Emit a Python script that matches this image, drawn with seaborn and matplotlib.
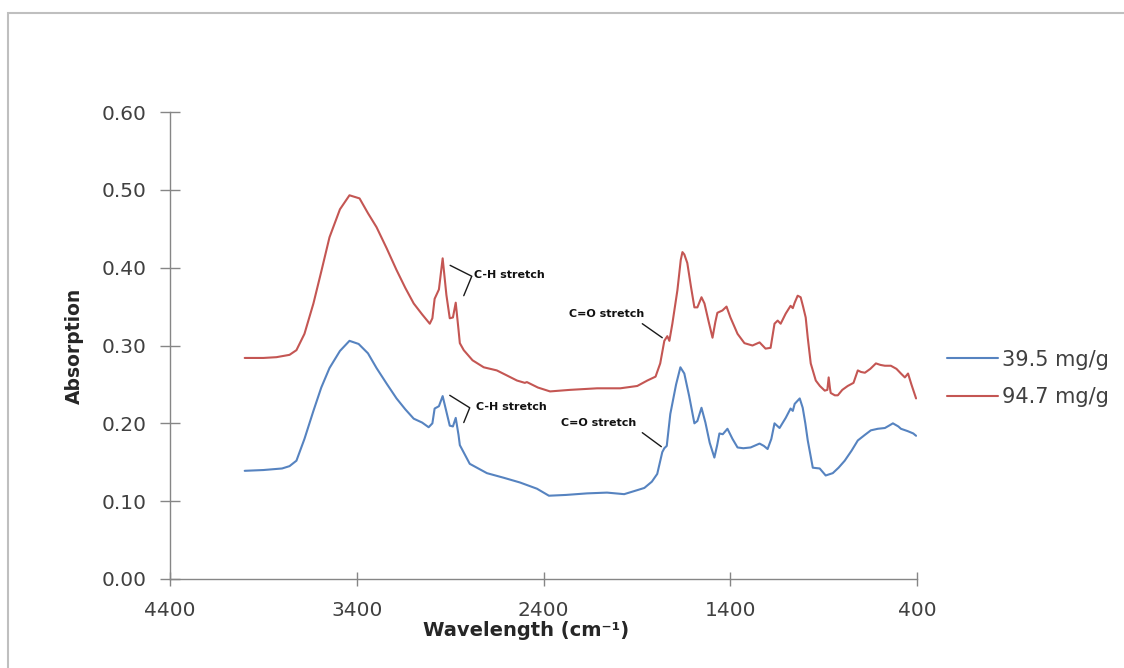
import numpy as np
import pandas as pd
import matplotlib
matplotlib.use("Agg")
import matplotlib.pyplot as plt
import matplotlib.patches as mpatches
from matplotlib.ticker import FixedLocator, FormatStrFormatter
import seaborn as sns

# ---------------- data ----------------
series_names = ["39.5 mg/g", "94.7 mg/g"]

red_wn = [4000, 3900, 3830, 3760, 3723, 3680, 3632, 3590, 3546, 3490, 3439, 3385,
          3340, 3294, 3240, 3187, 3140, 3095, 3050, 3009, 2995, 2983, 2960, 2940,
          2920, 2902, 2885, 2870, 2855, 2848, 2827, 2780, 2720, 2650, 2600, 2542,
          2500, 2489, 2430, 2365, 2258, 2113, 1989, 1898, 1844, 1800, 1775, 1753,
          1737, 1726, 1710, 1683, 1665, 1656, 1646, 1630, 1610, 1592, 1576, 1554,
          1538, 1515, 1495, 1480, 1469, 1442, 1420, 1399, 1361, 1324, 1281, 1243,
          1211, 1184, 1163, 1146, 1130, 1103, 1077, 1065, 1055, 1039, 1023, 1010,
          996, 985, 969, 942, 920, 894, 880, 873, 866, 862, 840, 824, 800, 771,
          740, 717, 700, 679, 650, 620, 595, 572, 540, 510, 486, 465, 448, 430, 405]
red_abs = [0.284, 0.284, 0.285, 0.288, 0.294, 0.315, 0.354, 0.395, 0.439, 0.475, 0.493, 0.489,
           0.470, 0.452, 0.425, 0.397, 0.374, 0.354, 0.340, 0.328, 0.335, 0.360, 0.372, 0.412,
           0.365, 0.335, 0.336, 0.355, 0.320, 0.303, 0.294, 0.281, 0.272, 0.268, 0.262, 0.255,
           0.252, 0.253, 0.246, 0.241, 0.243, 0.245, 0.245, 0.248, 0.255, 0.260, 0.277, 0.306,
           0.312, 0.306, 0.328, 0.371, 0.410, 0.420, 0.417, 0.406, 0.375, 0.349, 0.349, 0.362,
           0.354, 0.330, 0.310, 0.330, 0.342, 0.345, 0.350, 0.336, 0.315, 0.303, 0.300, 0.304,
           0.296, 0.297, 0.328, 0.332, 0.328, 0.341, 0.351, 0.348, 0.355, 0.364, 0.362, 0.350,
           0.336, 0.310, 0.277, 0.255, 0.248, 0.242, 0.243, 0.259, 0.245, 0.239, 0.236, 0.236,
           0.243, 0.248, 0.252, 0.268, 0.266, 0.265, 0.270, 0.277, 0.275, 0.274, 0.274, 0.270,
           0.264, 0.259, 0.264, 0.250, 0.232]

blue_wn = [4000, 3900, 3800, 3760, 3723, 3680, 3632, 3590, 3546, 3490, 3439, 3390,
           3340, 3294, 3240, 3187, 3140, 3095, 3050, 3015, 2995, 2983, 2960, 2940,
           2920, 2902, 2885, 2870, 2855, 2848, 2795, 2703, 2612, 2526, 2435, 2371,
           2280, 2167, 2060, 1968, 1900, 1860, 1820, 1791, 1764, 1753, 1740, 1721,
           1690, 1667, 1646, 1620, 1592, 1576, 1554, 1533, 1510, 1485, 1470, 1458,
           1440, 1415, 1388, 1361, 1330, 1291, 1243, 1220, 1200, 1180, 1163, 1136,
           1103, 1077, 1065, 1055, 1028, 1012, 998, 985, 958, 921, 889, 851, 820,
           787, 750, 717, 680, 647, 610, 572, 550, 529, 500, 486, 450, 420, 405]
blue_abs = [0.139, 0.140, 0.142, 0.145, 0.152, 0.180, 0.216, 0.246, 0.271, 0.293, 0.306, 0.302,
            0.290, 0.271, 0.251, 0.232, 0.218, 0.206, 0.201, 0.195, 0.200, 0.219, 0.222, 0.235,
            0.215, 0.197, 0.196, 0.207, 0.185, 0.172, 0.148, 0.136, 0.130, 0.124, 0.116, 0.107,
            0.108, 0.110, 0.111, 0.109, 0.114, 0.117, 0.125, 0.135, 0.163, 0.168, 0.171, 0.212,
            0.250, 0.272, 0.264, 0.235, 0.200, 0.203, 0.220, 0.201, 0.175, 0.156, 0.172, 0.187,
            0.186, 0.193, 0.180, 0.169, 0.168, 0.169, 0.174, 0.171, 0.167, 0.180, 0.200, 0.194,
            0.207, 0.219, 0.216, 0.225, 0.232, 0.220, 0.200, 0.178, 0.143, 0.142, 0.133, 0.136,
            0.143, 0.152, 0.165, 0.178, 0.185, 0.191, 0.193, 0.194, 0.197, 0.200, 0.196, 0.193,
            0.190, 0.187, 0.184]

x_tick_values = [4400, 3400, 2400, 1400, 400]
y_tick_values = [0.0, 0.1, 0.2, 0.3, 0.4, 0.5, 0.6]

annotation_text = ["C-H stretch", "C-H stretch", "C=O stretch", "C=O stretch"]

# ---------------- build long-form frame ----------------
df = pd.concat([
    pd.DataFrame({"wn": blue_wn, "abs": blue_abs, "series": series_names[0]}),
    pd.DataFrame({"wn": red_wn, "abs": red_abs, "series": series_names[1]}),
], ignore_index=True)

sns.set_style("white")
plt.rcParams["font.family"] = ["DejaVu Sans"]

W, H = 1124, 668
fig = plt.figure(figsize=(W / 100, H / 100), dpi=100)
ax_left, ax_right, ax_top, ax_bot = 170, 917, 112, 579
ax = fig.add_axes([ax_left / W, 1 - ax_bot / H, (ax_right - ax_left) / W, (ax_bot - ax_top) / H])

palette = {series_names[0]: "#5683C0", series_names[1]: "#C45653"}
sns.lineplot(data=df, x="wn", y="abs", hue="series", palette=palette, sort=False,
             estimator=None, linewidth=1.5, ax=ax, legend=True)

ax.set_xlim(4400, 400)
ax.set_ylim(0, 0.6)

ax.xaxis.set_major_locator(FixedLocator(x_tick_values))
ax.xaxis.set_minor_locator(FixedLocator(list(range(400, 4401, 200))))
ax.yaxis.set_major_locator(FixedLocator(y_tick_values))
ax.yaxis.set_major_formatter(FormatStrFormatter("%.2f"))
ax.xaxis.set_major_formatter(FormatStrFormatter("%d"))

axis_col = "#868686"
for s in ["top", "right"]:
    ax.spines[s].set_visible(False)
for s in ["left", "bottom"]:
    ax.spines[s].set_color(axis_col)
    ax.spines[s].set_linewidth(1.0)

ax.tick_params(axis="both", which="both", direction="inout", color=axis_col, width=1.0)
ax.tick_params(axis="x", which="major", length=9.5, pad=11, labelsize=14.5, labelcolor="#404040")
ax.tick_params(axis="x", which="minor", length=9.5)
ax.tick_params(axis="y", which="major", length=14, pad=10, labelsize=14.5, labelcolor="#404040")
ax.tick_params(left=True, bottom=True)

ax.set_xlabel("Wavelength (cm⁻¹)", fontsize=14, fontweight="bold", color="#262626", va="center")
ax.xaxis.set_label_coords((526 - ax_left) / (ax_right - ax_left), -(631 - ax_bot) / (ax_bot - ax_top))
ax.set_ylabel("Absorption", fontsize=13.5, fontweight="bold", color="#262626", va="center")
ax.yaxis.set_label_coords((74 - ax_left) / (ax_right - ax_left), 0.5)

# legend
handles, labels = ax.get_legend_handles_labels()
ax.legend(handles, labels, loc="center left",
          bbox_to_anchor=(947 / W, 1 - 378.5 / H), bbox_transform=fig.transFigure,
          frameon=False, fontsize=15, handlelength=2.45, handletextpad=0.2,
          labelspacing=0.85, borderpad=0, borderaxespad=0, labelcolor="#404040")

# annotations (bracket lines + text)
lc = "#1a1a1a"
ann_kw = dict(fontsize=8, fontweight="bold", color="#111111", va="center")
# red C-H
ax.plot([2900, 2784, 2827], [0.403, 0.389, 0.364], color=lc, lw=1.0)
ax.text(2773, 0.390, annotation_text[0], ha="left", **ann_kw)
# blue C-H
ax.plot([2902, 2795, 2827], [0.236, 0.220, 0.201], color=lc, lw=1.0)
ax.text(2762, 0.221, annotation_text[1], ha="left", **ann_kw)
# red C=O
ax.plot([1871, 1764], [0.328, 0.310], color=lc, lw=1.0)
ax.text(2062, 0.340, annotation_text[2], ha="center", **ann_kw)
# blue C=O
ax.plot([1871, 1769], [0.188, 0.170], color=lc, lw=1.0)
ax.text(2105, 0.201, annotation_text[3], ha="center", **ann_kw)

# outer chart border (Excel style)
fig.patches.append(mpatches.Rectangle((8 / W, -0.1), 1.2, (H - 13) / H + 0.1,
                                      transform=fig.transFigure, fill=False,
                                      edgecolor="#BFBFBF", linewidth=1.5))

fig.savefig("out.png", dpi=100, facecolor="white")
